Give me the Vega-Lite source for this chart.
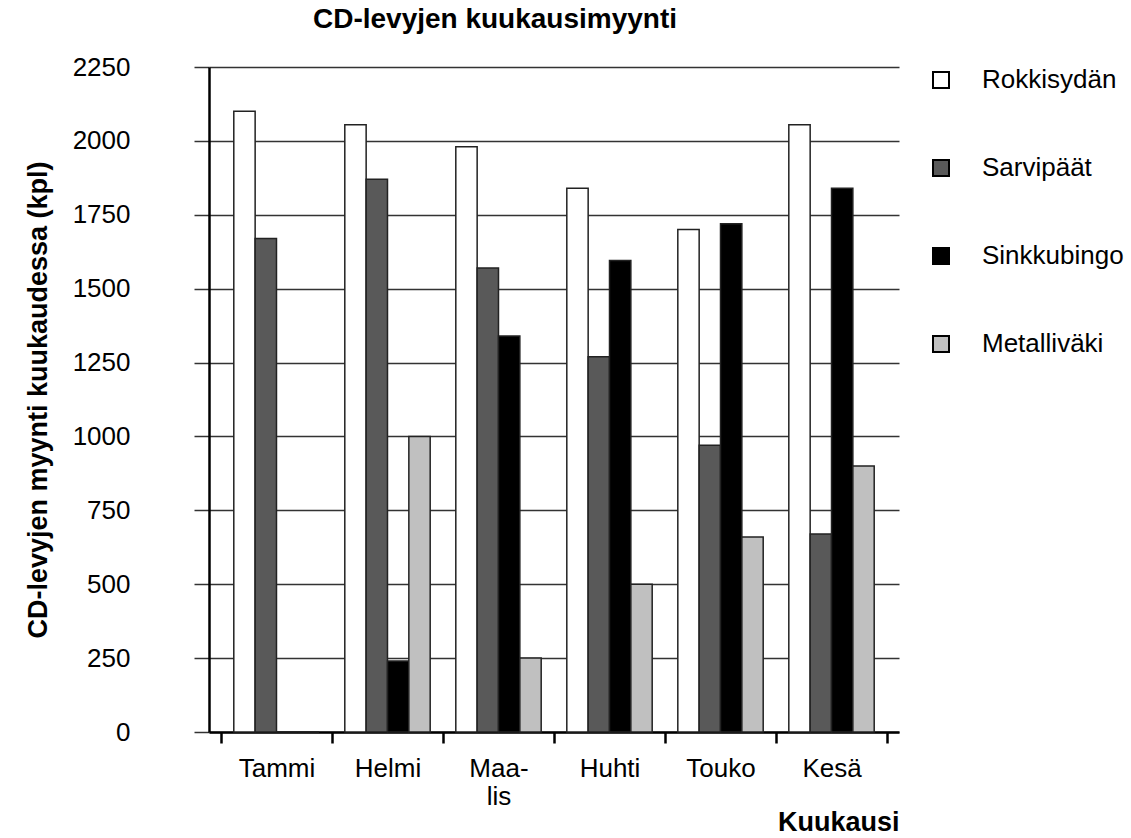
{
  "$schema": "https://vega.github.io/schema/vega-lite/v6.json",
  "width": 690,
  "height": 665,
  "padding": {"left": 24, "top": 6, "right": 5, "bottom": 5},
  "background": "white",
  "title": {
    "text": "CD-levyjen kuukausimyynti",
    "fontSize": 28,
    "fontWeight": "bold",
    "font": "Liberation Sans",
    "color": "black",
    "anchor": "middle",
    "frame": "group",
    "dx": -59,
    "offset": 20
  },
  "data": {
    "values": [
      {"month": "Tammi", "series": "Rokkisydän", "value": 2100},
      {"month": "Tammi", "series": "Sarvipäät", "value": 1670},
      {"month": "Tammi", "series": "Sinkkubingo", "value": 0},
      {"month": "Tammi", "series": "Metalliväki", "value": 0},
      {"month": "Helmi", "series": "Rokkisydän", "value": 2055},
      {"month": "Helmi", "series": "Sarvipäät", "value": 1870},
      {"month": "Helmi", "series": "Sinkkubingo", "value": 240},
      {"month": "Helmi", "series": "Metalliväki", "value": 1000},
      {"month": "Maalis", "series": "Rokkisydän", "value": 1980},
      {"month": "Maalis", "series": "Sarvipäät", "value": 1570},
      {"month": "Maalis", "series": "Sinkkubingo", "value": 1340},
      {"month": "Maalis", "series": "Metalliväki", "value": 250},
      {"month": "Huhti", "series": "Rokkisydän", "value": 1840},
      {"month": "Huhti", "series": "Sarvipäät", "value": 1270},
      {"month": "Huhti", "series": "Sinkkubingo", "value": 1595},
      {"month": "Huhti", "series": "Metalliväki", "value": 500},
      {"month": "Touko", "series": "Rokkisydän", "value": 1700},
      {"month": "Touko", "series": "Sarvipäät", "value": 970},
      {"month": "Touko", "series": "Sinkkubingo", "value": 1720},
      {"month": "Touko", "series": "Metalliväki", "value": 660},
      {"month": "Kesä", "series": "Rokkisydän", "value": 2055},
      {"month": "Kesä", "series": "Sarvipäät", "value": 670},
      {"month": "Kesä", "series": "Sinkkubingo", "value": 1840},
      {"month": "Kesä", "series": "Metalliväki", "value": 900}
    ]
  },
  "mark": {"type": "bar", "stroke": "#222222", "strokeWidth": 1.5},
  "encoding": {
    "x": {
      "field": "month",
      "type": "nominal",
      "sort": ["Tammi", "Helmi", "Maalis", "Huhti", "Touko", "Kesä"],
      "scale": {"paddingInner": 0, "paddingOuter": 0.108},
      "axis": {
        "title": "Kuukausi",
        "titleFontSize": 27,
        "titleFontWeight": "bold",
        "titleAnchor": "end",
        "titlePadding": 0,
        "titleColor": "black",
        "labelAngle": 0,
        "labelFontSize": 26,
        "labelColor": "black",
        "labelPadding": 12,
        "labelLineHeight": 28,
        "labelExpr": "datum.label == 'Maalis' ? ['Maa-', 'lis'] : datum.label",
        "tickBand": "extent",
        "tickSize": 11,
        "tickWidth": 2.5,
        "tickColor": "black",
        "domainColor": "black",
        "domainWidth": 2.5,
        "grid": false
      }
    },
    "xOffset": {
      "field": "series",
      "type": "nominal",
      "sort": ["Rokkisydän", "Sarvipäät", "Sinkkubingo", "Metalliväki"],
      "scale": {"paddingInner": 0, "paddingOuter": 0.6}
    },
    "y": {
      "field": "value",
      "type": "quantitative",
      "scale": {"domain": [0, 2250], "nice": false},
      "axis": {
        "title": "CD-levyjen myynti kuukaudessa (kpl)",
        "titleFontSize": 27,
        "titleFontWeight": "bold",
        "titleColor": "black",
        "titlePadding": 20,
        "values": [0, 250, 500, 750, 1000, 1250, 1500, 1750, 2000, 2250],
        "format": "d",
        "labelFontSize": 26,
        "labelColor": "black",
        "labelPadding": 64,
        "tickSize": 15,
        "tickColor": "#333333",
        "tickWidth": 1.5,
        "grid": true,
        "gridColor": "#333333",
        "gridWidth": 1.5,
        "domainColor": "black",
        "domainWidth": 2.5
      }
    },
    "color": {
      "field": "series",
      "type": "nominal",
      "sort": ["Rokkisydän", "Sarvipäät", "Sinkkubingo", "Metalliväki"],
      "scale": {
        "domain": ["Rokkisydän", "Sarvipäät", "Sinkkubingo", "Metalliväki"],
        "range": ["#ffffff", "#595959", "#000000", "#c0c0c0"]
      },
      "legend": {
        "title": null,
        "orient": "right",
        "offset": 29,
        "symbolType": "square",
        "symbolSize": 256,
        "symbolStrokeColor": "black",
        "symbolStrokeWidth": 2,
        "symbolOpacity": 1,
        "labelFontSize": 26,
        "labelColor": "black",
        "labelOffset": 28,
        "rowPadding": 62
      }
    }
  },
  "config": {
    "font": "Liberation Sans",
    "view": {"stroke": null},
    "axis": {"labelFont": "Liberation Sans", "titleFont": "Liberation Sans"},
    "legend": {"labelFont": "Liberation Sans"}
  }
}
